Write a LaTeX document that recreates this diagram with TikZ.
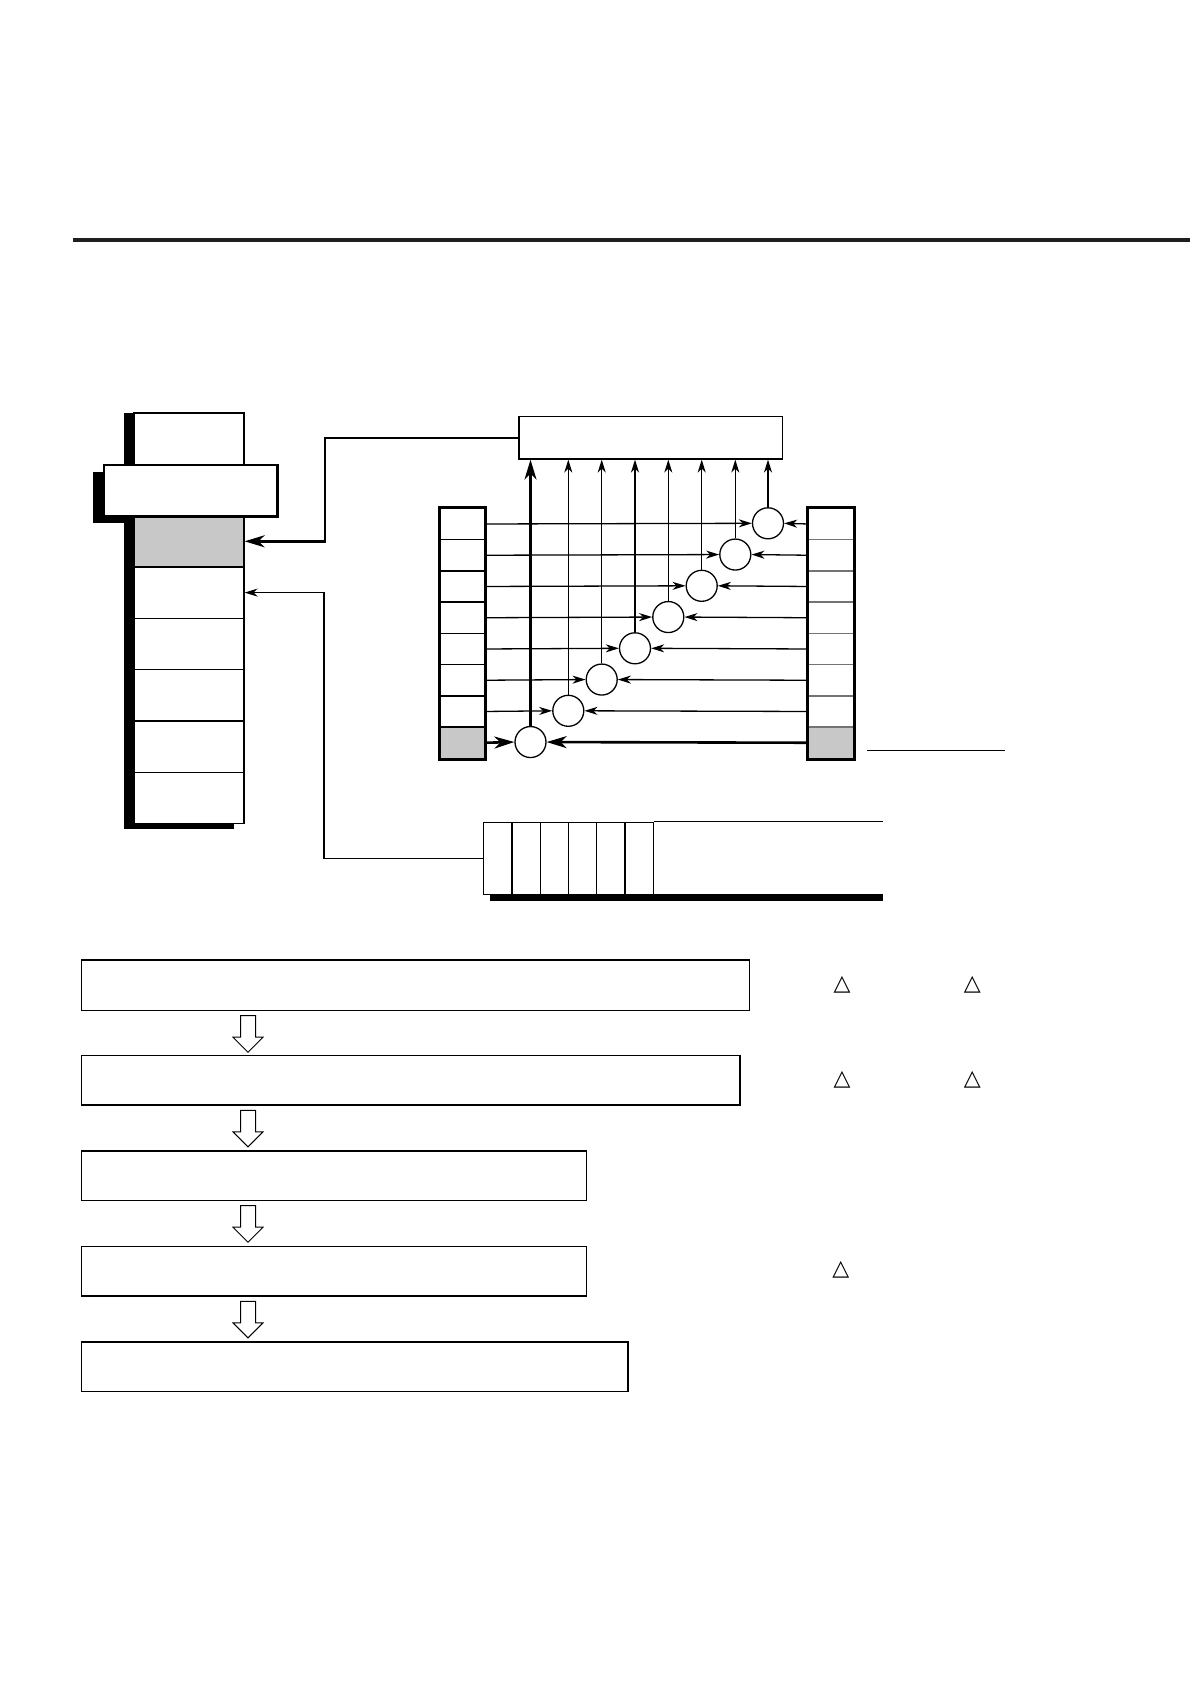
\documentclass[tikz,border=0pt]{standalone}
\usepackage{fontspec}
\newfontfamily\dejavu{DejaVu Sans}
\usetikzlibrary{arrows.meta,calc}
\definecolor{cellgray}{RGB}{200,200,200}
\begin{document}
\begin{tikzpicture}[x=1pt,y=-1pt,
  thinline/.style={line width=1.3pt},
  thickline/.style={line width=2.6pt},
  smalltip/.style={-{Stealth[length=13pt,width=8pt,inset=4pt]}},
  bigtip/.style={-{Stealth[length=20pt,width=12pt,inset=6pt]}},
  cellbox/.style={draw, line width=1.3pt, fill=white, inner sep=0pt, anchor=north west},
  flowbox/.style={draw, line width=1.5pt, fill=white, inner sep=0pt, anchor=north west},
  circ/.style={circle, draw, line width=1.3pt, fill=white, inner sep=0pt, minimum size=31pt},
  hollow/.style={draw, line width=1pt, fill=white},
  tri/.style={font=\dejavu\fontsize{22}{24}\selectfont, inner sep=0pt}
]
\useasboundingbox (0,0) rectangle (1190,1684);
\fill[white] (0,0) rectangle (1190,1684);

% top rule
\fill[black!88] (73,238) rectangle (1190,242);

% ---------- left column ----------
\fill (124,413) rectangle (234,829);
\fill (93,472) rectangle (133,523);
\node[cellbox, minimum width=110pt, minimum height=102.7pt] (col0) at (133.3,412.3) {};
\node[cellbox, fill=cellgray, minimum width=110pt, minimum height=51.3pt] (colA) at (133.3,515) {};
\node[cellbox, minimum width=110pt, minimum height=51.3pt] (colB) at (133.3,566.3) {};
\node[cellbox, minimum width=110pt, minimum height=51.3pt] (colC) at (133.3,617.6) {};
\node[cellbox, minimum width=110pt, minimum height=51.3pt] (colD) at (133.3,668.9) {};
\node[cellbox, minimum width=110pt, minimum height=51.3pt] (colE) at (133.3,720.2) {};
\node[cellbox, minimum width=110pt, minimum height=51.3pt] (colF) at (133.3,771.5) {};
\node[cellbox, line width=2.6pt, minimum width=173.3pt, minimum height=51.3pt] (wide) at (102.7,463.7) {};

% ---------- multiplexer box ----------
\node[cellbox, minimum width=263.4pt, minimum height=42.3pt] (mux) at (518.3,416) {};

% ---------- registers ----------
\foreach \k in {0,...,7} {
  \node[cellbox] (L\k) at (439,{507.7+31.25*\k}) [minimum width=45pt, minimum height=31.25pt] {};
  \node[cellbox, draw=black!55] (R\k) at (807.7,{507.7+31.25*\k}) [minimum width=45pt, minimum height=31.25pt] {};
}
\node[cellbox, fill=cellgray] at (L7.north west) [minimum width=45pt, minimum height=31.25pt] {};
\node[cellbox, fill=cellgray, draw=black!55] at (R7.north west) [minimum width=45pt, minimum height=31.25pt] {};
\draw[line width=3pt] (L0.north west) rectangle (L7.south east);
\draw[line width=3pt] (R0.north west) rectangle (R7.south east);

% ---------- circles ----------
\foreach \k/\cx in {0/768,1/735.3,2/701.7,3/668.3,4/635,5/601.7,6/568.3,7/530.5}
  \node[circ] (C\k) at (\cx,{523.3+31.25*\k}) {};

\foreach \k in {0,...,6} {
  \draw[thinline, smalltip] (L\k.east) -- (C\k.west);
  \draw[thinline, smalltip] (R\k.west) -- (C\k.east);
  \draw[thinline, smalltip] (C\k.north) -- (C\k.north |- mux.south);
}
\draw[thickline, bigtip] (L7.east) -- (C7.west);
\draw[thickline, bigtip] (R7.west) -- (C7.east);
\draw[thickline, bigtip] (C7.north) -- (C7.north |- mux.south);

% leader line
\coordinate (lead1) at (867.3,750.3);
\coordinate (lead2) at (1005,750.3);
\draw[line width=1.5pt] (lead1) -- (lead2);

% ---------- bottom register ----------
\fill (490,894) rectangle (882.7,900.7);
\foreach \i in {0,...,5}
  \node[cellbox] (B\i) at ({483+28.25*\i},821.5) [minimum width=28.25pt, minimum height=72.5pt] {};
\coordinate (bEnd) at (882.7,821.5);
\draw[thinline] (B5.north east) -- (bEnd);

% ---------- connectors to left column ----------
\coordinate (kA) at (325,0);
\coordinate (kB) at (324.1,0);
\draw[thickline, bigtip] (mux.west) -| (kA |- colA.east) -- (colA.east);
\draw[thinline, smalltip] (B0.west) -| (kB |- colB.east) -- (colB.east);

% ---------- flow boxes ----------
\node[flowbox, minimum width=668.1pt, minimum height=50.2pt] (F1) at (80.5,959.3) {};
\node[flowbox, minimum width=658.8pt, minimum height=49.4pt] (F2) at (80.5,1054.8) {};
\node[flowbox, minimum width=505.3pt, minimum height=49.2pt] (F3) at (80.5,1150.3) {};
\node[flowbox, minimum width=505.3pt, minimum height=49.4pt] (F4) at (80.5,1245.8) {};
\node[flowbox, minimum width=546.7pt, minimum height=49.4pt] (F5) at (80.5,1341.3) {};

\foreach \i in {1,...,4}
  \draw[hollow] ($(F\i.south west)+(160,4.7)$) -- ++(15,0) -- ++(0,21.5) -- ++(7.5,0)
      -- ++(-15,15) -- ++(-15,-15) -- ++(7.5,0) -- cycle;

% ---------- triangles ----------
\node[tri] (t1) at (842,984.8) {△};
\node[tri] (t2) at (972.4,984.8) {△};
\node[tri] (t3) at (842,1080) {△};
\node[tri] (t4) at (972.4,1080) {△};
\node[tri] (t5) at (840.7,1269.8) {△};
\end{tikzpicture}
\end{document}
